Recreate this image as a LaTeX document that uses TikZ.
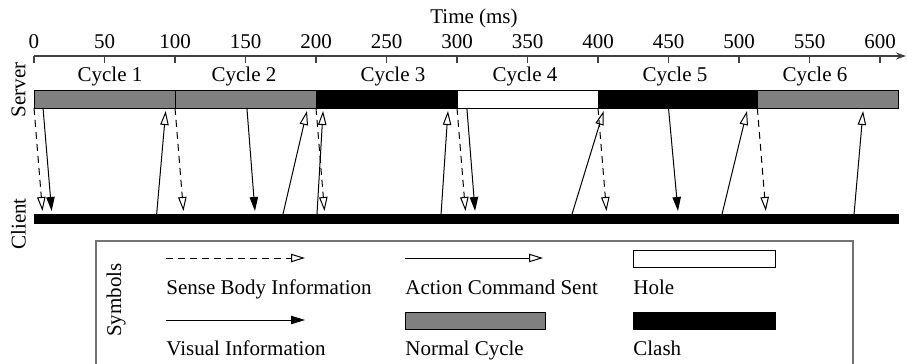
\documentclass[tikz,border=0pt]{standalone}
\usepackage{fontspec}
\setmainfont{Liberation Serif}
\usetikzlibrary{arrows.meta,positioning}

% time (ms) -> x position
\newcommand{\tms}[1]{34+1.41*#1}

\begin{document}
\begin{tikzpicture}[
    x=0.5pt, y=-0.5pt,
    font=\fontsize{10.5}{12}\selectfont,
    lbl/.style={inner sep=0pt, anchor=base},
    axisline/.style={black!75, line width=0.6pt},
    seg/.style={draw, line width=0.5pt},
    normal/.style={seg, fill=gray},
    hole/.style={seg, fill=white},
    clash/.style={seg, fill=black},
    tipopen/.style={-{Triangle[open, length=7pt, width=4.2pt]}, line width=0.5pt},
    sense/.style={tipopen, dash pattern=on 3.5pt off 2.5pt},
    action/.style={tipopen},
    visual/.style={-{Triangle[length=7pt, width=4.2pt]}, line width=0.5pt}
]
    \useasboundingbox (0,0) rectangle (907,364);

    % Time axis
    \coordinate (t_start) at (34,56);
    \coordinate (t_end) at (906,56);
    \draw[axisline, -{Stealth[length=5pt, width=3.5pt]}] (t_start) -- (t_end);
    \foreach \t in {0,50,...,600} {
        \draw[axisline] ({\tms{\t}},56) -- ({\tms{\t}},63);
        \node[lbl] (tick_\t) at ({\tms{\t}},48) {\t};
    }
    \node[lbl] (time_lbl) at (474,24) {Time (ms)};

    % Server cycles
    \foreach \a/\b/\k/\c [count=\i] in {0/100/normal/110, 100/200/normal/244, 200/300/clash/393,
                                        300/400/hole/525, 400/513/clash/675, 513/613/normal/815} {
        \draw[\k] ({\tms{\a}},90) rectangle ({\tms{\b}},108);
        \node[lbl] (cycle_\i) at (\c,82) {Cycle \i};
    }
    \node[rotate=90, inner sep=0pt] (server_lbl) at (18.5,90) {Server};

    % Client
    \draw[fill=black] (34,214) rectangle (898,223);
    \node[rotate=90, inner sep=0pt] (client_lbl) at (18.5,224) {Client};

    % Sense body (server -> client)
    \foreach \t [count=\i] in {0,100,200,300,400,513} {
        \coordinate (sb_s\i) at ({\tms{\t}},108);
        \coordinate (sb_c\i) at ({\tms{(\t+6)}},211);
        \draw[sense] (sb_s\i) -- (sb_c\i);
    }

    % Visual (server -> client)
    \foreach \a/\b [count=\i] in {6.4/12.5, 151/156.7, 307/312.8, 450/456.7} {
        \coordinate (vi_s\i) at ({\tms{\a}},108);
        \coordinate (vi_c\i) at ({\tms{\b}},211);
        \draw[visual] (vi_s\i) -- (vi_c\i);
    }

    % Action commands (client -> server)
    \foreach \a/\b [count=\i] in {87/93.4, 176.6/193.6, 200.7/205, 288.7/293.6,
                                  381.6/404, 488/505.7, 581.6/588} {
        \coordinate (ac_c\i) at ({\tms{\a}},214);
        \coordinate (ac_s\i) at ({\tms{\b}},111);
        \draw[action] (ac_c\i) -- (ac_s\i);
    }

    % Legend
    \draw[black!55, line width=0.8pt] (96,366) -- (96,241) -- (853,241) -- (853,366);
    \node[rotate=90, inner sep=0pt] (sym_lbl) at (116,300) {Symbols};

    \coordinate (lg_sb_a) at (166,258);
    \coordinate (lg_sb_b) at (305,258);
    \draw[sense] (lg_sb_a) -- (lg_sb_b);
    \node[lbl, anchor=base west] (lg_sb_txt) at (166,294) {Sense Body Information};

    \coordinate (lg_ac_a) at (405,258);
    \coordinate (lg_ac_b) at (543,258);
    \draw[action] (lg_ac_a) -- (lg_ac_b);
    \node[lbl, anchor=base west] (lg_ac_txt) at (405,294) {Action Command Sent};

    \draw[hole] (633,250) rectangle (775,267);
    \node[lbl, anchor=base west] (lg_hole_txt) at (633,294) {Hole};

    \coordinate (lg_vi_a) at (166,320);
    \coordinate (lg_vi_b) at (305,320);
    \draw[visual] (lg_vi_a) -- (lg_vi_b);
    \node[lbl, anchor=base west] (lg_vi_txt) at (166,355) {Visual Information};

    \draw[normal] (405,312) rectangle (545,329);
    \node[lbl, anchor=base west] (lg_norm_txt) at (405,355) {Normal Cycle};

    \draw[clash] (633,312) rectangle (775,329);
    \node[lbl, anchor=base west] (lg_clash_txt) at (633,355) {Clash};
\end{tikzpicture}
\end{document}
